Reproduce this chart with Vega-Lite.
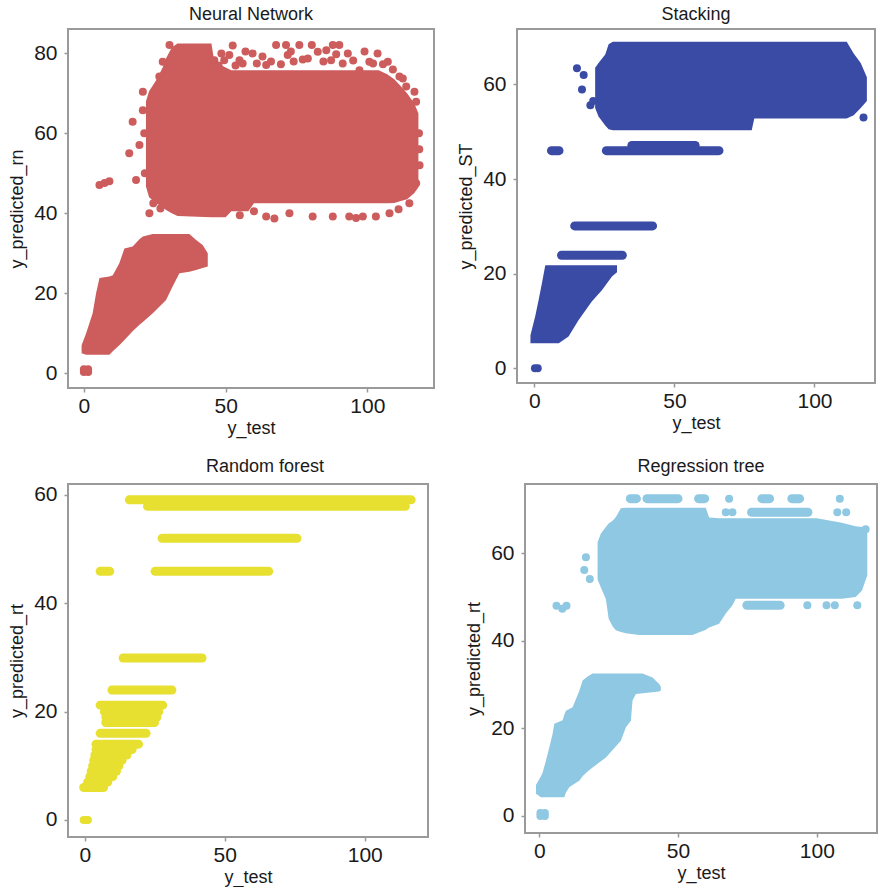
{
"$schema": "https://vega.github.io/schema/vega-lite/v6.json",
"background": "white",
"padding": {"left": 7, "top": 5, "right": 0, "bottom": 0},
"config": {
  "view": {"stroke": "#9a9a9a", "strokeWidth": 2},
  "axis": {"domain": false, "grid": false, "tickColor": "#999999", "tickSize": 4, "tickWidth": 1.5, "labelFont": "Liberation Sans", "labelFontSize": 21, "labelColor": "#1a1a1a", "labelPadding": 7, "titleFont": "Liberation Sans", "titleFontSize": 18, "titleFontWeight": "normal", "titleColor": "#1a1a1a", "titlePadding": 7},
  "axisX": {"labelPadding": 3, "titlePadding": 3},
  "title": {"font": "Liberation Sans", "fontSize": 18, "fontWeight": "normal", "color": "#1a1a1a", "offset": 5}
},
"datasets": {
  "nn_area": [
    {"blob":"main","y_test":21.9,"y_pred":68,"y_pred2":46.7},
    {"blob":"main","y_test":23,"y_pred":70.5,"y_pred2":44},
    {"blob":"main","y_test":25.5,"y_pred":73.3,"y_pred2":42.5},
    {"blob":"main","y_test":27.8,"y_pred":76.5,"y_pred2":41.5},
    {"blob":"main","y_test":29,"y_pred":78.8,"y_pred2":40.8},
    {"blob":"main","y_test":31,"y_pred":81.5,"y_pred2":40},
    {"blob":"main","y_test":33,"y_pred":82.5,"y_pred2":39.3},
    {"blob":"main","y_test":45,"y_pred":82.5,"y_pred2":39},
    {"blob":"main","y_test":46,"y_pred":78,"y_pred2":39},
    {"blob":"main","y_test":50,"y_pred":76.5,"y_pred2":39},
    {"blob":"main","y_test":52,"y_pred":75.8,"y_pred2":40.5},
    {"blob":"main","y_test":58,"y_pred":75.8,"y_pred2":40.5},
    {"blob":"main","y_test":60,"y_pred":75.8,"y_pred2":42.5},
    {"blob":"main","y_test":104,"y_pred":75.8,"y_pred2":42.5},
    {"blob":"main","y_test":107,"y_pred":74.8,"y_pred2":42.5},
    {"blob":"main","y_test":109.5,"y_pred":73.5,"y_pred2":42.6},
    {"blob":"main","y_test":111.5,"y_pred":72,"y_pred2":43},
    {"blob":"main","y_test":114,"y_pred":70,"y_pred2":43.5},
    {"blob":"main","y_test":116.5,"y_pred":67.5,"y_pred2":45},
    {"blob":"main","y_test":118,"y_pred":65,"y_pred2":46.5},
    {"blob":"low","y_test":-0.8,"y_pred":7,"y_pred2":5},
    {"blob":"low","y_test":0.8,"y_pred":10,"y_pred2":4.6},
    {"blob":"low","y_test":3.1,"y_pred":15,"y_pred2":4.6},
    {"blob":"low","y_test":4.3,"y_pred":20,"y_pred2":4.6},
    {"blob":"low","y_test":5.5,"y_pred":23.8,"y_pred2":4.6},
    {"blob":"low","y_test":9,"y_pred":24.2,"y_pred2":4.6},
    {"blob":"low","y_test":10.2,"y_pred":24.5,"y_pred2":5.5},
    {"blob":"low","y_test":12.5,"y_pred":27.5,"y_pred2":7},
    {"blob":"low","y_test":14.3,"y_pred":31.2,"y_pred2":8.3},
    {"blob":"low","y_test":17.2,"y_pred":31.7,"y_pred2":10.5},
    {"blob":"low","y_test":19.6,"y_pred":33.5,"y_pred2":12.1},
    {"blob":"low","y_test":20.8,"y_pred":34.2,"y_pred2":12.8},
    {"blob":"low","y_test":24.3,"y_pred":34.8,"y_pred2":15},
    {"blob":"low","y_test":29,"y_pred":34.8,"y_pred2":18.3},
    {"blob":"low","y_test":31.3,"y_pred":34.8,"y_pred2":21.7},
    {"blob":"low","y_test":33.7,"y_pred":34.8,"y_pred2":25},
    {"blob":"low","y_test":37.2,"y_pred":34.8,"y_pred2":25.4},
    {"blob":"low","y_test":39.6,"y_pred":33.3,"y_pred2":25.8},
    {"blob":"low","y_test":41.9,"y_pred":32.1,"y_pred2":26.3},
    {"blob":"low","y_test":43.7,"y_pred":30,"y_pred2":26.7}
  ],
  "nn_points": [
    {"y_test":0,"y_pred":0.3},{"y_test":1.5,"y_pred":0.3},{"y_test":0,"y_pred":1},{"y_test":1.5,"y_pred":1},
    {"y_test":5.5,"y_pred":47.1},{"y_test":7.3,"y_pred":47.6},{"y_test":9,"y_pred":48},
    {"y_test":17.2,"y_pred":62.9},{"y_test":16,"y_pred":55},{"y_test":18.4,"y_pred":48.3},{"y_test":23.1,"y_pred":40},
    {"y_test":20.8,"y_pred":70.4},{"y_test":20.8,"y_pred":65.8},{"y_test":19.6,"y_pred":57.1},
    {"y_test":21.5,"y_pred":50},{"y_test":21.3,"y_pred":60},{"y_test":24.5,"y_pred":42.5},{"y_test":27,"y_pred":41.2},
    {"y_test":26.6,"y_pred":74.2},{"y_test":27.8,"y_pred":77.9},{"y_test":30.2,"y_pred":82.1},
    {"y_test":46,"y_pred":78.3},{"y_test":48.5,"y_pred":80},{"y_test":51.3,"y_pred":79.6},{"y_test":52.5,"y_pred":82},
    {"y_test":54.9,"y_pred":78.3},{"y_test":57,"y_pred":80.5},{"y_test":59.5,"y_pred":80},{"y_test":63,"y_pred":79.2},
    {"y_test":64.3,"y_pred":77.1},{"y_test":67.8,"y_pred":82.1},{"y_test":71.3,"y_pred":82.1},{"y_test":71.9,"y_pred":79.6},
    {"y_test":74,"y_pred":78},{"y_test":76,"y_pred":82.1},{"y_test":77.2,"y_pred":78.5},{"y_test":80.4,"y_pred":82.1},
    {"y_test":82.5,"y_pred":80.4},{"y_test":87.8,"y_pred":82.1},{"y_test":90.1,"y_pred":82.1},{"y_test":87.2,"y_pred":78.3},
    {"y_test":91.3,"y_pred":77.5},{"y_test":93.1,"y_pred":80},{"y_test":103.6,"y_pred":80},{"y_test":100.7,"y_pred":77.9},
    {"y_test":107.2,"y_pred":77.9},{"y_test":97.2,"y_pred":75.8},{"y_test":111.3,"y_pred":74.2},{"y_test":113.7,"y_pred":71.7},
    {"y_test":116.6,"y_pred":70.4},{"y_test":117.2,"y_pred":67.9},{"y_test":112.5,"y_pred":73.7},
    {"y_test":47.5,"y_pred":77},{"y_test":49.5,"y_pred":78.3},{"y_test":53.5,"y_pred":77},{"y_test":56,"y_pred":77.5},
    {"y_test":61,"y_pred":77.5},{"y_test":66,"y_pred":78},{"y_test":69.5,"y_pred":77.3},{"y_test":73,"y_pred":80.5},
    {"y_test":79,"y_pred":78.7},{"y_test":84.5,"y_pred":78},{"y_test":85.5,"y_pred":80.8},{"y_test":89,"y_pred":79.8},
    {"y_test":95,"y_pred":78.2},{"y_test":99,"y_pred":80.5},{"y_test":102,"y_pred":77.5},{"y_test":105.5,"y_pred":77.3},{"y_test":109,"y_pred":76},
    {"y_test":118.2,"y_pred":60},{"y_test":118.4,"y_pred":52},{"y_test":118.3,"y_pred":56},{"y_test":117.2,"y_pred":47.5},{"y_test":114.8,"y_pred":42.5},
    {"y_test":64.3,"y_pred":39.2},{"y_test":67.2,"y_pred":38.7},{"y_test":72.5,"y_pred":40},{"y_test":80.7,"y_pred":39.2},
    {"y_test":87.8,"y_pred":39.2},{"y_test":93.6,"y_pred":39.2},{"y_test":96,"y_pred":38.8},{"y_test":98.4,"y_pred":39.2},
    {"y_test":103,"y_pred":39.2},{"y_test":107.8,"y_pred":40},{"y_test":111,"y_pred":41},{"y_test":55,"y_pred":39.5},{"y_test":60,"y_pred":40.5}
  ],
  "st_area": [
    {"blob":"main","y_test":21.7,"y_pred":63.5,"y_pred2":55},
    {"blob":"main","y_test":22.9,"y_pred":64.5,"y_pred2":53.2},
    {"blob":"main","y_test":25.3,"y_pred":66.3,"y_pred2":51.3},
    {"blob":"main","y_test":26.5,"y_pred":68.5,"y_pred2":50.5},
    {"blob":"main","y_test":28,"y_pred":69,"y_pred2":50.3},
    {"blob":"main","y_test":77.6,"y_pred":69,"y_pred2":50.3},
    {"blob":"main","y_test":78.5,"y_pred":69,"y_pred2":52.8},
    {"blob":"main","y_test":111.5,"y_pred":69,"y_pred2":52.8},
    {"blob":"main","y_test":114,"y_pred":66.5,"y_pred2":53.5},
    {"blob":"main","y_test":116.5,"y_pred":64.5,"y_pred2":55},
    {"blob":"main","y_test":118.7,"y_pred":61.5,"y_pred2":56.5},
    {"blob":"low","y_test":-1.4,"y_pred":7,"y_pred2":5.3},
    {"blob":"low","y_test":0.3,"y_pred":11,"y_pred2":5.3},
    {"blob":"low","y_test":1.5,"y_pred":14.4,"y_pred2":5.3},
    {"blob":"low","y_test":2.7,"y_pred":18,"y_pred2":5.3},
    {"blob":"low","y_test":3.9,"y_pred":21.8,"y_pred2":5.3},
    {"blob":"low","y_test":8.7,"y_pred":21.8,"y_pred2":5.3},
    {"blob":"low","y_test":12.2,"y_pred":21.8,"y_pred2":6.7},
    {"blob":"low","y_test":15.8,"y_pred":21.8,"y_pred2":10.2},
    {"blob":"low","y_test":20.5,"y_pred":21.8,"y_pred2":14.1},
    {"blob":"low","y_test":24.1,"y_pred":21.8,"y_pred2":16.5},
    {"blob":"low","y_test":27.7,"y_pred":21.8,"y_pred2":19.4},
    {"blob":"low","y_test":29.5,"y_pred":21.8,"y_pred2":20.3}
  ],
  "st_streaks": [
    {"y_test":25.7,"y_test2":65.9,"y_pred":46},
    {"y_test":34.8,"y_test2":57.4,"y_pred":47.1},
    {"y_test":6.1,"y_test2":8.8,"y_pred":46},
    {"y_test":14.4,"y_test2":42.2,"y_pred":30.1},
    {"y_test":9.7,"y_test2":31.4,"y_pred":23.9}
  ],
  "st_points": [
    {"y_test":0.2,"y_pred":0},{"y_test":1.2,"y_pred":0},
    {"y_test":15.2,"y_pred":63.4},{"y_test":17.6,"y_pred":62},{"y_test":17,"y_pred":58.9},{"y_test":20,"y_pred":55.6},
    {"y_test":28.9,"y_pred":68},{"y_test":117.5,"y_pred":53},{"y_test":21,"y_pred":56.5}
  ],
  "rf_streaks": [
    {"y_test":15.9,"y_test2":116.6,"y_pred":59.1},
    {"y_test":22.4,"y_test2":114.5,"y_pred":57.9},
    {"y_test":27.6,"y_test2":75.8,"y_pred":52},
    {"y_test":25.1,"y_test2":65.7,"y_pred":45.9},
    {"y_test":5.5,"y_test2":8.9,"y_pred":45.9},
    {"y_test":13.7,"y_test2":41.9,"y_pred":29.9},
    {"y_test":9.7,"y_test2":31.1,"y_pred":24},
    {"y_test":5.5,"y_test2":27.8,"y_pred":21.2},
    {"y_test":7,"y_test2":26.4,"y_pred":20},
    {"y_test":7.5,"y_test2":25.8,"y_pred":19},
    {"y_test":7.5,"y_test2":24.9,"y_pred":18},
    {"y_test":5.5,"y_test2":21.9,"y_pred":16},
    {"y_test":4,"y_test2":19.2,"y_pred":14},
    {"y_test":4,"y_test2":16.9,"y_pred":13},
    {"y_test":3.6,"y_test2":15.1,"y_pred":12},
    {"y_test":3.2,"y_test2":13.3,"y_pred":11},
    {"y_test":2.8,"y_test2":12.2,"y_pred":10},
    {"y_test":2.3,"y_test2":11.3,"y_pred":9},
    {"y_test":1.8,"y_test2":10,"y_pred":8},
    {"y_test":1,"y_test2":8.2,"y_pred":7},
    {"y_test":-0.4,"y_test2":6.7,"y_pred":6}
  ],
  "rf_points": [
    {"y_test":-0.4,"y_pred":0},{"y_test":0.4,"y_pred":0},{"y_test":1.1,"y_pred":0}
  ],
  "rt_area": [
    {"blob":"main","y_test":21,"y_pred":62.5,"y_pred2":54},
    {"blob":"main","y_test":22.2,"y_pred":64.5,"y_pred2":52.2},
    {"blob":"main","y_test":24,"y_pred":66,"y_pred2":49.5},
    {"blob":"main","y_test":25,"y_pred":66.8,"y_pred2":45},
    {"blob":"main","y_test":26.5,"y_pred":67.5,"y_pred2":43.2},
    {"blob":"main","y_test":27.6,"y_pred":68.3,"y_pred2":42.4},
    {"blob":"main","y_test":29.4,"y_pred":70.3,"y_pred2":42},
    {"blob":"main","y_test":31.2,"y_pred":70.4,"y_pred2":41.7},
    {"blob":"main","y_test":36,"y_pred":70.4,"y_pred2":41.3},
    {"blob":"main","y_test":55.2,"y_pred":70.4,"y_pred2":41.3},
    {"blob":"main","y_test":60,"y_pred":70.4,"y_pred2":42.5},
    {"blob":"main","y_test":61.2,"y_pred":68.2,"y_pred2":43},
    {"blob":"main","y_test":64.8,"y_pred":68,"y_pred2":43.9},
    {"blob":"main","y_test":67.2,"y_pred":68,"y_pred2":46.2},
    {"blob":"main","y_test":69.6,"y_pred":68,"y_pred2":48.1},
    {"blob":"main","y_test":70.8,"y_pred":68,"y_pred2":49.6},
    {"blob":"main","y_test":100,"y_pred":68,"y_pred2":49.6},
    {"blob":"main","y_test":109,"y_pred":67,"y_pred2":49.6},
    {"blob":"main","y_test":114,"y_pred":66.2,"y_pred2":50},
    {"blob":"main","y_test":116.3,"y_pred":66,"y_pred2":51.5},
    {"blob":"main","y_test":118.2,"y_pred":64.5,"y_pred2":55},
    {"blob":"low","y_test":-1.2,"y_pred":7,"y_pred2":5},
    {"blob":"low","y_test":0.6,"y_pred":9,"y_pred2":4.2},
    {"blob":"low","y_test":1.2,"y_pred":9.8,"y_pred2":4.2},
    {"blob":"low","y_test":2.4,"y_pred":12.6,"y_pred2":4.2},
    {"blob":"low","y_test":3.6,"y_pred":15.6,"y_pred2":4.2},
    {"blob":"low","y_test":4.8,"y_pred":18.7,"y_pred2":4.2},
    {"blob":"low","y_test":5.4,"y_pred":21,"y_pred2":4.2},
    {"blob":"low","y_test":8.4,"y_pred":21.8,"y_pred2":4.2},
    {"blob":"low","y_test":9,"y_pred":23,"y_pred2":4.2},
    {"blob":"low","y_test":9.6,"y_pred":24,"y_pred2":5.3},
    {"blob":"low","y_test":10.8,"y_pred":24.4,"y_pred2":6.5},
    {"blob":"low","y_test":12,"y_pred":24.8,"y_pred2":7},
    {"blob":"low","y_test":14.4,"y_pred":28.5,"y_pred2":8},
    {"blob":"low","y_test":15.6,"y_pred":30.9,"y_pred2":9},
    {"blob":"low","y_test":17.4,"y_pred":31.8,"y_pred2":10.1},
    {"blob":"low","y_test":19.2,"y_pred":32.5,"y_pred2":11},
    {"blob":"low","y_test":24,"y_pred":32.5,"y_pred2":13.3},
    {"blob":"low","y_test":29.4,"y_pred":32.5,"y_pred2":17.1},
    {"blob":"low","y_test":31.2,"y_pred":32.5,"y_pred2":20.2},
    {"blob":"low","y_test":33,"y_pred":32.5,"y_pred2":21.7},
    {"blob":"low","y_test":33.6,"y_pred":32.5,"y_pred2":26.3},
    {"blob":"low","y_test":34.8,"y_pred":32.5,"y_pred2":27.8},
    {"blob":"low","y_test":37.2,"y_pred":32.5,"y_pred2":28},
    {"blob":"low","y_test":40.8,"y_pred":31.6,"y_pred2":28.2},
    {"blob":"low","y_test":43.2,"y_pred":30.1,"y_pred2":28.4},
    {"blob":"low","y_test":43.8,"y_pred":29.5,"y_pred2":28.6}
  ],
  "rt_streaks": [
    {"y_test":32.8,"y_test2":35,"y_pred":72.5},
    {"y_test":38.8,"y_test2":50,"y_pred":72.5},
    {"y_test":57.4,"y_test2":59.6,"y_pred":72.5},
    {"y_test":80.2,"y_test2":83,"y_pred":72.5},
    {"y_test":91,"y_test2":93.8,"y_pred":72.5},
    {"y_test":76.5,"y_test2":96.8,"y_pred":69.4},
    {"y_test":74.8,"y_test2":86.8,"y_pred":48.1}
  ],
  "rt_points": [
    {"y_test":68.4,"y_pred":72.5},{"y_test":108.3,"y_pred":72.5},
    {"y_test":67.2,"y_pred":69.4},{"y_test":69.6,"y_pred":69.4},{"y_test":107.4,"y_pred":69.4},{"y_test":110.6,"y_pred":69.4},
    {"y_test":96.6,"y_pred":48.1},{"y_test":103.5,"y_pred":48.1},{"y_test":106.5,"y_pred":48.1},{"y_test":114.6,"y_pred":48.1},
    {"y_test":16.8,"y_pred":59.1},{"y_test":16.2,"y_pred":56.2},{"y_test":18.2,"y_pred":54.1},
    {"y_test":6.2,"y_pred":48},{"y_test":8.3,"y_pred":47.3},{"y_test":9.8,"y_pred":48},
    {"y_test":117.6,"y_pred":65.5},
    {"y_test":0.4,"y_pred":-0.1},{"y_test":2,"y_pred":-0.1},{"y_test":0.4,"y_pred":0.6},{"y_test":2,"y_pred":0.6}
  ]
},
"bounds": "full",
"spacing": 18,
"vconcat": [
  {
    "bounds": "flush",
    "spacing": 83,
    "hconcat": [
      {
        "width": 366, "height": 359,
        "title": {"text": "Neural Network"},
        "encoding": {
          "x": {"field": "y_test", "type": "quantitative", "scale": {"domain": [-5.6, 123.5], "nice": false, "zero": false}, "axis": {"values": [0, 50, 100], "title": "y_test"}},
          "y": {"field": "y_pred", "type": "quantitative", "scale": {"domain": [-3.7, 86.1], "nice": false, "zero": false}, "axis": {"values": [0, 20, 40, 60, 80], "title": "y_predicted_rn"}}
        },
        "layer": [
          {"data": {"name": "nn_area"}, "mark": {"type": "area", "color": "#CD5C5C", "opacity": 1, "orient": "vertical"}, "encoding": {"y2": {"field": "y_pred2"}, "detail": {"field": "blob"}}},
          {"data": {"name": "nn_points"}, "mark": {"type": "circle", "color": "#CD5C5C", "size": 64, "opacity": 1}}
        ]
      },
      {
        "width": 358, "height": 354,
        "title": {"text": "Stacking"},
        "encoding": {
          "x": {"field": "y_test", "type": "quantitative", "scale": {"domain": [-6.2, 121.6], "nice": false, "zero": false}, "axis": {"values": [0, 50, 100], "title": "y_test"}},
          "y": {"field": "y_pred", "type": "quantitative", "scale": {"domain": [-3.1, 71.7], "nice": false, "zero": false}, "axis": {"values": [0, 20, 40, 60], "title": "y_predicted_ST"}}
        },
        "layer": [
          {"data": {"name": "st_area"}, "mark": {"type": "area", "color": "#3A4BA5", "opacity": 1, "orient": "vertical"}, "encoding": {"y2": {"field": "y_pred2"}, "detail": {"field": "blob"}}},
          {"data": {"name": "st_streaks"}, "mark": {"type": "rule", "color": "#3A4BA5", "strokeWidth": 9, "strokeCap": "round", "opacity": 1}, "encoding": {"x2": {"field": "y_test2"}}},
          {"data": {"name": "st_points"}, "mark": {"type": "circle", "color": "#3A4BA5", "size": 64, "opacity": 1}}
        ]
      }
    ]
  },
  {
    "bounds": "flush",
    "spacing": 97,
    "hconcat": [
      {
        "width": 360, "height": 353,
        "title": {"text": "Random forest", "dx": 17, "offset": 8},
        "encoding": {
          "x": {"field": "y_test", "type": "quantitative", "scale": {"domain": [-6.0, 122.6], "nice": false, "zero": false}, "axis": {"values": [0, 50, 100], "title": "y_test"}},
          "y": {"field": "y_pred", "type": "quantitative", "scale": {"domain": [-3.14, 62.03], "nice": false, "zero": false}, "axis": {"values": [0, 20, 40, 60], "title": "y_predicted_rt"}}
        },
        "layer": [
          {"data": {"name": "rf_streaks"}, "mark": {"type": "rule", "color": "#E8E030", "strokeWidth": 9, "strokeCap": "round", "opacity": 1}, "encoding": {"x2": {"field": "y_test2"}}},
          {"data": {"name": "rf_points"}, "mark": {"type": "circle", "color": "#E8E030", "size": 64, "opacity": 1}}
        ]
      },
      {
        "width": 352, "height": 349,
        "title": {"text": "Regression tree", "offset": 8},
        "encoding": {
          "x": {"field": "y_test", "type": "quantitative", "scale": {"domain": [-5.15, 121.7], "nice": false, "zero": false}, "axis": {"values": [0, 50, 100], "title": "y_test"}},
          "y": {"field": "y_pred", "type": "quantitative", "scale": {"domain": [-3.98, 75.85], "nice": false, "zero": false}, "axis": {"values": [0, 20, 40, 60], "title": "y_predicted_rt"}}
        },
        "layer": [
          {"data": {"name": "rt_area"}, "mark": {"type": "area", "color": "#8FC8E2", "opacity": 1, "orient": "vertical"}, "encoding": {"y2": {"field": "y_pred2"}, "detail": {"field": "blob"}}},
          {"data": {"name": "rt_streaks"}, "mark": {"type": "rule", "color": "#8FC8E2", "strokeWidth": 9, "strokeCap": "round", "opacity": 1}, "encoding": {"x2": {"field": "y_test2"}}},
          {"data": {"name": "rt_points"}, "mark": {"type": "circle", "color": "#8FC8E2", "size": 64, "opacity": 1}}
        ]
      }
    ]
  }
]
}
